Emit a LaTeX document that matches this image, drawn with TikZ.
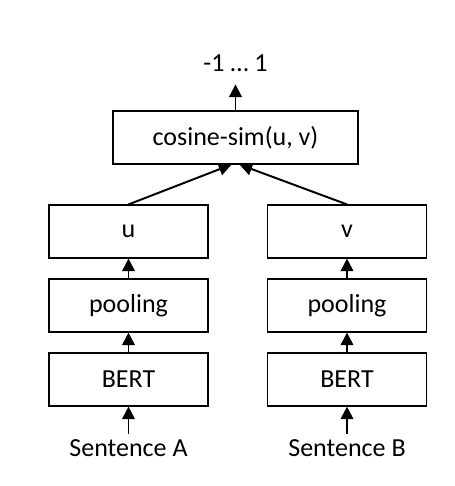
\documentclass[tikz,border=0pt]{standalone}
\usepackage{fontspec}
\setmainfont{Carlito}
\usetikzlibrary{arrows.meta}

\begin{document}
\begin{tikzpicture}[x=0.025cm, y=-0.025cm, >={Triangle[length=9pt, width=9pt]},
    font=\fontsize{18.5}{22}\selectfont]
        \tikzset{box/.style={draw, line width=0.8pt, minimum height=1.325cm, inner sep=0pt},
          conn/.style={->, line width=1.4pt}}
        \useasboundingbox (0,0) rectangle (454,486);
        % 左の列
        \node[box, minimum width=3.975cm] (u) at (128.5,231.5) {u};
        \node[box, minimum width=3.975cm] (poolA) at (128.5,305.5) {pooling};
        \node[box, minimum width=3.975cm] (bertA) at (128.5,379.5) {BERT};
        \node[anchor=base] (sentA) at (128.5,456) {Sentence A};
        % 右の列
        \node[box, minimum width=3.975cm] (v) at (347,231.5) {v};
        \node[box, minimum width=3.975cm] (poolB) at (347,305.5) {pooling};
        \node[box, minimum width=3.975cm] (bertB) at (347,379.5) {BERT};
        \node[anchor=base] (sentB) at (347,456) {Sentence B};
        % 類似度
        \node[box, minimum width=6.125cm] (cos) at (235.5,137.5) {cosine-sim(u, v)};
        \node (out) at (235.5,63) {-1 … 1};
        % 矢印
        \draw[conn] (sentA) -- (bertA);
        \draw[conn] (bertA) -- (poolA);
        \draw[conn] (poolA) -- (u);
        \draw[conn] (sentB) -- (bertB);
        \draw[conn] (bertB) -- (poolB);
        \draw[conn] (poolB) -- (v);
        \draw[conn] (u.north) -- ([xshift=-0.1cm]cos.south);
        \draw[conn] (v.north) -- ([xshift=0.1cm]cos.south);
        \draw[conn, shorten >=0.2cm] (cos) -- (out);
      \end{tikzpicture}
\end{document}
